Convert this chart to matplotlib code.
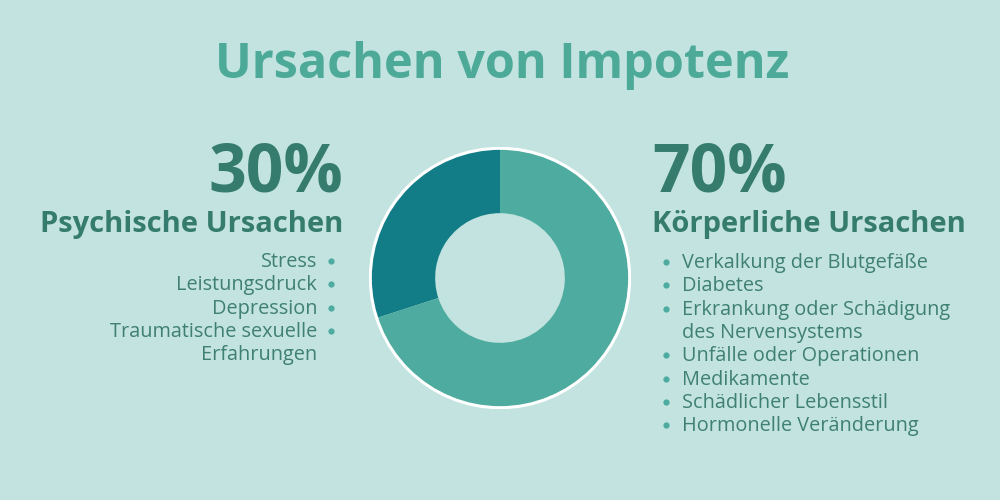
import matplotlib.pyplot as plt
from matplotlib.patches import Circle

# data
labels = ['Psychische Ursachen', 'Körperliche Ursachen']
shares = [30, 70]
psych_items = ['Stress', 'Leistungsdruck', 'Depression',
               'Traumatische sexuelle\nErfahrungen']
body_items = ['Verkalkung der Blutgefäße', 'Diabetes',
              'Erkrankung oder Schädigung\ndes Nervensystems',
              'Unfälle oder Operationen', 'Medikamente',
              'Schädlicher Lebensstil', 'Hormonelle Veränderung']

bg = '#c2e3df'
dark_wedge = '#137d87'
light_wedge = '#4eab9f'
title_col = '#4daa98'
head_col = '#357c6e'
item_col = '#3f8073'
dot_col = '#4eab9f'

plt.rcParams['font.family'] = ['Open Sans', 'DejaVu Sans']

fig = plt.figure(figsize=(10, 5), dpi=100, facecolor=bg)

# overlay axes in pixel coordinates (y grows downwards)
ax = fig.add_axes([0, 0, 1, 1])
ax.set_xlim(0, 1000)
ax.set_ylim(500, 0)
ax.axis('off')

# --- donut ---
dax = fig.add_axes([369 / 1000, (222 - 131) / 500, 262 / 1000, 262 / 500])
dax.pie(shares, colors=[dark_wedge, light_wedge], startangle=90,
        counterclock=True, radius=0.985,
        wedgeprops=dict(width=0.49, edgecolor='none'))
dax.add_patch(Circle((0, 0), 0.99, fill=False, edgecolor='white', lw=2.2))
dax.set_xlim(-1, 1)
dax.set_ylim(-1, 1)
dax.set_aspect('equal')
dax.axis('off')

# --- title ---
ax.text(502, 78, 'Ursachen von Impotenz', ha='center', va='baseline',
        fontsize=35, fontweight='bold', color=title_col)

step = 23.3
item_fs = 14.3

# --- left block ---
ax.text(343, 192, f'{shares[0]}%', ha='right', va='baseline',
        fontsize=47.5, fontweight='bold', color=head_col)
ax.text(343, 232, labels[0], ha='right', va='baseline',
        fontsize=21, fontweight='bold', color=head_col)
y = 267
for item in psych_items:
    lines = item.split('\n')
    for i, line in enumerate(lines):
        ax.text(317, y + i * step, line, ha='right', va='baseline',
                fontsize=item_fs, color=item_col)
    ax.plot(331, y - 6, 'o', ms=4.5, color=dot_col, mec='none')
    y += step * len(lines)

# --- right block ---
ax.text(652, 192, f'{shares[1]}%', ha='left', va='baseline',
        fontsize=47.5, fontweight='bold', color=head_col)
ax.text(652, 232, labels[1], ha='left', va='baseline',
        fontsize=21, fontweight='bold', color=head_col)
y = 268
for item in body_items:
    lines = item.split('\n')
    for i, line in enumerate(lines):
        ax.text(682, y + i * step, line, ha='left', va='baseline',
                fontsize=item_fs, color=item_col)
    ax.plot(666, y - 6, 'o', ms=4.5, color=dot_col, mec='none')
    y += step * len(lines)

fig.savefig('out.png', dpi=100, facecolor=bg)
